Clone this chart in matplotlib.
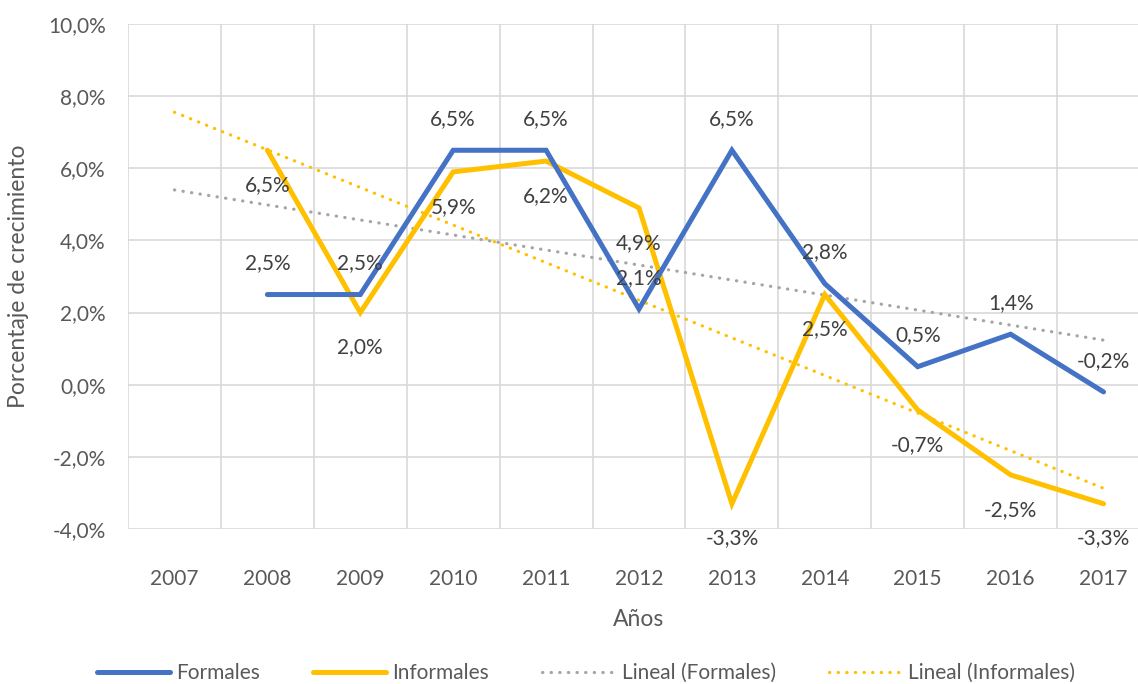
import numpy as np
import matplotlib.pyplot as plt

plt.rcParams['font.family'] = ['Lato', 'DejaVu Sans']

years = ['2007', '2008', '2009', '2010', '2011', '2012', '2013', '2014', '2015', '2016', '2017']
# valores de crecimiento (%), 2007 sin dato
formales = [np.nan, 2.5, 2.5, 6.5, 6.5, 2.1, 6.5, 2.8, 0.5, 1.4, -0.2]
informales = [np.nan, 6.5, 2.0, 5.9, 6.2, 4.9, -3.3, 2.5, -0.7, -2.5, -3.3]

blue = '#4472C4'
gold = '#FFC000'
grey = '#A5A5A5'
txt = '#595959'
lbl = '#404040'

x = np.arange(len(years))
f = np.array(formales)
inf = np.array(informales)

def trend(y):
    # linea de tendencia lineal como en Excel (x = 1..n)
    ok = ~np.isnan(y)
    m, b = np.polyfit(x[ok] + 1, y[ok], 1)
    return m * (x + 1) + b

fig = plt.figure(figsize=(11.38, 6.84), dpi=100)
ax = fig.add_axes([128 / 1138, 155 / 684, 1022 / 1138, 505 / 684])

ax.plot(x, f, color=blue, lw=3.6, solid_capstyle='round', solid_joinstyle='miter', label='Formales', zorder=4)
ax.plot(x, inf, color=gold, lw=3.6, solid_capstyle='round', solid_joinstyle='miter', label='Informales', zorder=3)
ax.plot(x, trend(f), color=grey, lw=2.3, ls=(0, (0.1, 2.6)), dash_capstyle='round', label='Lineal (Formales)', zorder=2)
ax.plot(x, trend(inf), color=gold, lw=2.3, ls=(0, (0.1, 2.6)), dash_capstyle='round', label='Lineal (Informales)', zorder=2)

for xi, v in zip(x, f):
    if not np.isnan(v):
        ax.annotate(f'{v:.1f}%'.replace('.', ','), (xi, v), xytext=(0, 22.5), textcoords='offset points',
                    ha='center', va='center', fontsize=15, color=lbl, zorder=5)
for xi, v in zip(x, inf):
    if not np.isnan(v):
        ax.annotate(f'{v:.1f}%'.replace('.', ','), (xi, v), xytext=(0, -25), textcoords='offset points',
                    ha='center', va='center', fontsize=15, color=lbl, zorder=5)

ax.set_xlim(-0.5, len(years) - 0.5)
ax.set_ylim(-4, 10)
ax.set_yticks(np.arange(-4, 11, 2))
ax.set_yticklabels([f'{t:.1f}%'.replace('.', ',') for t in np.arange(-4, 11, 2)])
ax.set_xticks(x)
ax.set_xticklabels(years)
ax.set_xticks(np.arange(-0.5, len(years), 1), minor=True)
ax.grid(True, which='minor', axis='x', color='#D9D9D9', lw=1.2)
ax.grid(True, which='major', axis='y', color='#D9D9D9', lw=1.2)
ax.set_axisbelow(True)
for s in ax.spines.values():
    s.set_visible(False)
ax.tick_params(axis='both', which='both', length=0, labelsize=15, colors=txt)
ax.tick_params(axis='y', pad=16)
ax.tick_params(axis='x', pad=29)

ax.set_xlabel('Años', fontsize=16.5, color=txt, labelpad=14)
ax.set_ylabel('Porcentaje de crecimiento', fontsize=16.5, color=txt, labelpad=14)

leg = fig.legend(loc='center', bbox_to_anchor=(0.515, 11 / 684), ncol=4, frameon=False,
                 fontsize=15, handlelength=3.5, columnspacing=2.55, handletextpad=0.3)
for t in leg.get_texts():
    t.set_color(txt)

fig.savefig('out.png', dpi=100)
